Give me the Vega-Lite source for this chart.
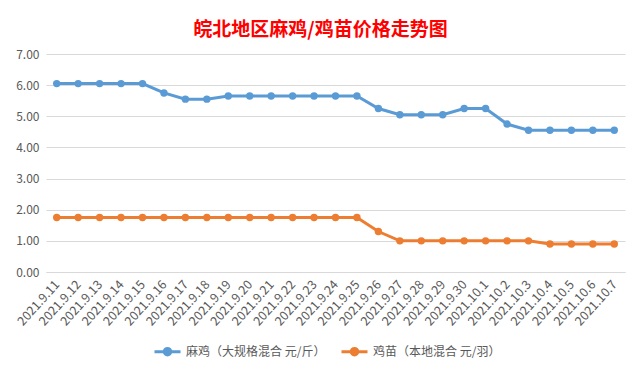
{
  "$schema": "https://vega.github.io/schema/vega-lite/v6.json",
  "width": 579,
  "height": 218,
  "autosize": "none",
  "padding": {"left": 46, "top": 54, "right": 17, "bottom": 100},
  "background": "white",
  "title": {
    "text": "皖北地区麻鸡/鸡苗价格走势图",
    "color": "#FF0000",
    "font": "Noto Sans CJK SC",
    "fontSize": 19,
    "fontWeight": "bold",
    "anchor": "middle",
    "dx": -15,
    "offset": 8
  },
  "config": {
    "view": {"stroke": null},
    "font": "Noto Sans CJK SC"
  },
  "data": {
    "values": [
      {"date": "2021.9.11", "series": "麻鸡（大规格混合 元/斤）", "price": 6.05},
      {"date": "2021.9.12", "series": "麻鸡（大规格混合 元/斤）", "price": 6.05},
      {"date": "2021.9.13", "series": "麻鸡（大规格混合 元/斤）", "price": 6.05},
      {"date": "2021.9.14", "series": "麻鸡（大规格混合 元/斤）", "price": 6.05},
      {"date": "2021.9.15", "series": "麻鸡（大规格混合 元/斤）", "price": 6.05},
      {"date": "2021.9.16", "series": "麻鸡（大规格混合 元/斤）", "price": 5.75},
      {"date": "2021.9.17", "series": "麻鸡（大规格混合 元/斤）", "price": 5.55},
      {"date": "2021.9.18", "series": "麻鸡（大规格混合 元/斤）", "price": 5.55},
      {"date": "2021.9.19", "series": "麻鸡（大规格混合 元/斤）", "price": 5.65},
      {"date": "2021.9.20", "series": "麻鸡（大规格混合 元/斤）", "price": 5.65},
      {"date": "2021.9.21", "series": "麻鸡（大规格混合 元/斤）", "price": 5.65},
      {"date": "2021.9.22", "series": "麻鸡（大规格混合 元/斤）", "price": 5.65},
      {"date": "2021.9.23", "series": "麻鸡（大规格混合 元/斤）", "price": 5.65},
      {"date": "2021.9.24", "series": "麻鸡（大规格混合 元/斤）", "price": 5.65},
      {"date": "2021.9.25", "series": "麻鸡（大规格混合 元/斤）", "price": 5.65},
      {"date": "2021.9.26", "series": "麻鸡（大规格混合 元/斤）", "price": 5.25},
      {"date": "2021.9.27", "series": "麻鸡（大规格混合 元/斤）", "price": 5.05},
      {"date": "2021.9.28", "series": "麻鸡（大规格混合 元/斤）", "price": 5.05},
      {"date": "2021.9.29", "series": "麻鸡（大规格混合 元/斤）", "price": 5.05},
      {"date": "2021.9.30", "series": "麻鸡（大规格混合 元/斤）", "price": 5.25},
      {"date": "2021.10.1", "series": "麻鸡（大规格混合 元/斤）", "price": 5.25},
      {"date": "2021.10.2", "series": "麻鸡（大规格混合 元/斤）", "price": 4.75},
      {"date": "2021.10.3", "series": "麻鸡（大规格混合 元/斤）", "price": 4.55},
      {"date": "2021.10.4", "series": "麻鸡（大规格混合 元/斤）", "price": 4.55},
      {"date": "2021.10.5", "series": "麻鸡（大规格混合 元/斤）", "price": 4.55},
      {"date": "2021.10.6", "series": "麻鸡（大规格混合 元/斤）", "price": 4.55},
      {"date": "2021.10.7", "series": "麻鸡（大规格混合 元/斤）", "price": 4.55},
      {"date": "2021.9.11", "series": "鸡苗（本地混合 元/羽）", "price": 1.75},
      {"date": "2021.9.12", "series": "鸡苗（本地混合 元/羽）", "price": 1.75},
      {"date": "2021.9.13", "series": "鸡苗（本地混合 元/羽）", "price": 1.75},
      {"date": "2021.9.14", "series": "鸡苗（本地混合 元/羽）", "price": 1.75},
      {"date": "2021.9.15", "series": "鸡苗（本地混合 元/羽）", "price": 1.75},
      {"date": "2021.9.16", "series": "鸡苗（本地混合 元/羽）", "price": 1.75},
      {"date": "2021.9.17", "series": "鸡苗（本地混合 元/羽）", "price": 1.75},
      {"date": "2021.9.18", "series": "鸡苗（本地混合 元/羽）", "price": 1.75},
      {"date": "2021.9.19", "series": "鸡苗（本地混合 元/羽）", "price": 1.75},
      {"date": "2021.9.20", "series": "鸡苗（本地混合 元/羽）", "price": 1.75},
      {"date": "2021.9.21", "series": "鸡苗（本地混合 元/羽）", "price": 1.75},
      {"date": "2021.9.22", "series": "鸡苗（本地混合 元/羽）", "price": 1.75},
      {"date": "2021.9.23", "series": "鸡苗（本地混合 元/羽）", "price": 1.75},
      {"date": "2021.9.24", "series": "鸡苗（本地混合 元/羽）", "price": 1.75},
      {"date": "2021.9.25", "series": "鸡苗（本地混合 元/羽）", "price": 1.75},
      {"date": "2021.9.26", "series": "鸡苗（本地混合 元/羽）", "price": 1.3},
      {"date": "2021.9.27", "series": "鸡苗（本地混合 元/羽）", "price": 1.0},
      {"date": "2021.9.28", "series": "鸡苗（本地混合 元/羽）", "price": 1.0},
      {"date": "2021.9.29", "series": "鸡苗（本地混合 元/羽）", "price": 1.0},
      {"date": "2021.9.30", "series": "鸡苗（本地混合 元/羽）", "price": 1.0},
      {"date": "2021.10.1", "series": "鸡苗（本地混合 元/羽）", "price": 1.0},
      {"date": "2021.10.2", "series": "鸡苗（本地混合 元/羽）", "price": 1.0},
      {"date": "2021.10.3", "series": "鸡苗（本地混合 元/羽）", "price": 1.0},
      {"date": "2021.10.4", "series": "鸡苗（本地混合 元/羽）", "price": 0.9},
      {"date": "2021.10.5", "series": "鸡苗（本地混合 元/羽）", "price": 0.9},
      {"date": "2021.10.6", "series": "鸡苗（本地混合 元/羽）", "price": 0.9},
      {"date": "2021.10.7", "series": "鸡苗（本地混合 元/羽）", "price": 0.9}
    ]
  },
  "mark": {"type": "line", "strokeWidth": 3, "point": {"size": 55, "filled": true, "opacity": 1}},
  "encoding": {
    "x": {
      "field": "date",
      "type": "ordinal",
      "sort": null,
      "axis": {
        "title": null,
        "labelAngle": -48,
        "labelAlign": "right",
        "labelBaseline": "middle",
        "labelPadding": 10,
        "labelFontSize": 12.5,
        "labelColor": "#595959",
        "labelFont": "Noto Sans CJK SC",
        "ticks": false,
        "domain": true,
        "domainColor": "#D9D9D9",
        "domainWidth": 1,
        "labelOverlap": false
      }
    },
    "y": {
      "field": "price",
      "type": "quantitative",
      "scale": {"domain": [0, 7], "nice": false},
      "axis": {
        "title": null,
        "values": [0, 1, 2, 3, 4, 5, 6, 7],
        "format": ".2f",
        "domain": false,
        "ticks": false,
        "gridColor": "#D9D9D9",
        "gridWidth": 1,
        "labelPadding": 7,
        "labelFontSize": 12,
        "labelColor": "#595959",
        "labelFont": "Noto Sans CJK SC"
      }
    },
    "color": {
      "field": "series",
      "type": "nominal",
      "scale": {
        "domain": ["麻鸡（大规格混合 元/斤）", "鸡苗（本地混合 元/羽）"],
        "range": ["#5B9BD5", "#ED7D31"]
      },
      "legend": {
        "title": null,
        "orient": "none",
        "direction": "horizontal",
        "legendX": 107,
        "legendY": 283,
        "symbolType": "M-1,0L1,0M-0.25,0A0.25,0.25 0 1,0 0.25,0A0.25,0.25 0 1,0 -0.25,0Z",
        "symbolSize": 676,
        "symbolStrokeWidth": 3,
        "labelFontSize": 12,
        "labelColor": "#595959",
        "labelFont": "Noto Sans CJK SC",
        "labelOffset": 4,
        "columnPadding": 9,
        "encode": {
          "symbols": {"update": {"fill": {"scale": "color", "field": "value"}, "fillOpacity": {"value": 1}}}
        }
      }
    }
  }
}
